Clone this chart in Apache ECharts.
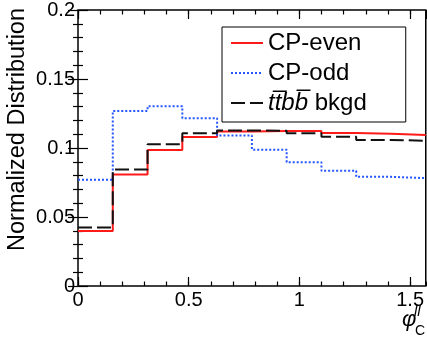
<!DOCTYPE html>
<html>
<head>
<meta charset="utf-8">
<script src="https://cdn.jsdelivr.net/npm/echarts@6/dist/echarts.min.js"></script>
<style>
  html, body { margin: 0; padding: 0; background: #fff; }
  #chart { width: 427px; height: 347px; }
</style>
</head>
<body>
<div id="chart"></div>
<script>
// bin left edges in phi_C^ll (10 bins of pi/20), plus the last upper edge
const phiEdges = [0, 0.1571, 0.3142, 0.4712, 0.6283, 0.7854, 0.9425, 1.0996, 1.2566, 1.4137, 1.5708];
const cpEven = [0.0398, 0.0808, 0.0985, 0.1080, 0.1120, 0.1123, 0.1123, 0.1108, 0.1103, 0.1094];
const cpOdd = [0.0770, 0.1268, 0.1302, 0.1216, 0.1091, 0.0988, 0.0897, 0.0835, 0.0791, 0.0782];
const ttbbBkgd = [0.0424, 0.0844, 0.1027, 0.1106, 0.1127, 0.1125, 0.1106, 0.1082, 0.1058, 0.1053];
const seriesNames = ['CP-even', 'CP-odd', 'ttbb'];

const FONT = 'Liberation Sans';
const X_MAX = phiEdges[phiEdges.length - 1];

// histogram -> step points: each bin's left edge, then the last edge again
const toSteps = (vals) => {
  const pts = vals.map((v, i) => [phiEdges[i], v]);
  pts.push([phiEdges[vals.length], vals[vals.length - 1]]);
  return pts;
};

const chart = echarts.init(document.getElementById('chart'));

const tickLine = { color: '#000', width: 1.2 };
const xBase = {
  type: 'value', min: 0, max: X_MAX,
  splitLine: { show: false },
  axisLine: { show: false },
};
const yBase = {
  type: 'value', min: 0, max: 0.2, interval: 0.05,
  splitLine: { show: false },
  axisLine: { show: false },
};

const option = {
  animation: false,
  grid: {
    left: 78, top: 8, right: 1, bottom: 61,
    show: true, borderColor: '#000', borderWidth: 1.5,
  },
  xAxis: [
    { ...xBase, position: 'bottom', interval: 0.5,
      axisTick: { inside: true, length: 9, lineStyle: tickLine },
      axisLabel: { margin: 4, color: '#000', fontFamily: FONT, fontSize: 20, showMaxLabel: false } },
    { ...xBase, position: 'bottom', interval: 0.1,
      axisTick: { inside: true, length: 4.5, lineStyle: tickLine },
      axisLabel: { show: false } },
    { ...xBase, position: 'top', interval: 0.5,
      axisTick: { inside: true, length: 9, lineStyle: tickLine },
      axisLabel: { show: false } },
    { ...xBase, position: 'top', interval: 0.1,
      axisTick: { inside: true, length: 4.5, lineStyle: tickLine },
      axisLabel: { show: false } },
  ],
  yAxis: [
    { ...yBase, position: 'left',
      axisTick: { inside: true, length: 10, lineStyle: tickLine },
      minorTick: { show: true, splitNumber: 5, length: 5, lineStyle: tickLine },
      axisLabel: { margin: 3, color: '#000', fontFamily: FONT, fontSize: 20 } },
    { ...yBase, position: 'right',
      axisTick: { inside: true, length: 10, lineStyle: tickLine },
      minorTick: { show: true, splitNumber: 5, length: 5, lineStyle: tickLine },
      axisLabel: { show: false } },
  ],
  legend: {
    orient: 'vertical',
    left: 222, top: 27,
    padding: [4, 39, 7, 8],
    itemGap: 6,
    itemWidth: 32, itemHeight: 12,
    borderColor: '#000', borderWidth: 1,
    backgroundColor: '#fff',
    itemStyle: { opacity: 0 },
    data: seriesNames,
    formatter: (name) => name === 'ttbb' ? '{i|tt\u0305bb\u0305}{n| bkgd}' : name,
    textStyle: {
      color: '#000', fontFamily: FONT, fontSize: 24,
      rich: {
        i: { fontFamily: FONT, fontSize: 24, fontStyle: 'italic', color: '#000' },
        n: { fontFamily: FONT, fontSize: 24, color: '#000' },
      },
    },
  },
  graphic: [
    {
      type: 'text', left: 6, top: 8, rotation: Math.PI / 2,
      style: { text: 'Normalized Distribution', font: '23.5px "Liberation Sans"', fill: '#000' },
    },
    {
      type: 'text', x: 402, y: 309,
      style: { text: '\u03C6', font: 'italic 22px "Liberation Sans"', fill: '#000' },
    },
    {
      type: 'text', x: 414, y: 304,
      style: { text: 'll', font: 'italic 15px "Liberation Sans"', fill: '#000' },
    },
    {
      type: 'text', x: 415, y: 324,
      style: { text: 'C', font: '14px "Liberation Sans"', fill: '#000' },
    },
  ],
  series: [
    {
      name: 'CP-even', type: 'line', step: 'end', symbol: 'none',
      data: toSteps(cpEven),
      lineStyle: { color: '#ff1a1a', width: 2 },
      itemStyle: { color: '#ff1a1a' },
    },
    {
      name: 'CP-odd', type: 'line', step: 'end', symbol: 'none',
      data: toSteps(cpOdd),
      lineStyle: { color: '#2456ff', width: 2, type: [2, 2] },
      itemStyle: { color: '#2456ff' },
    },
    {
      name: 'ttbb', type: 'line', step: 'end', symbol: 'none',
      data: toSteps(ttbbBkgd),
      lineStyle: { color: '#111', width: 2, type: [14, 5] },
      itemStyle: { color: '#111' },
    },
  ],
};
chart.setOption(option);
</script>
</body>
</html>
